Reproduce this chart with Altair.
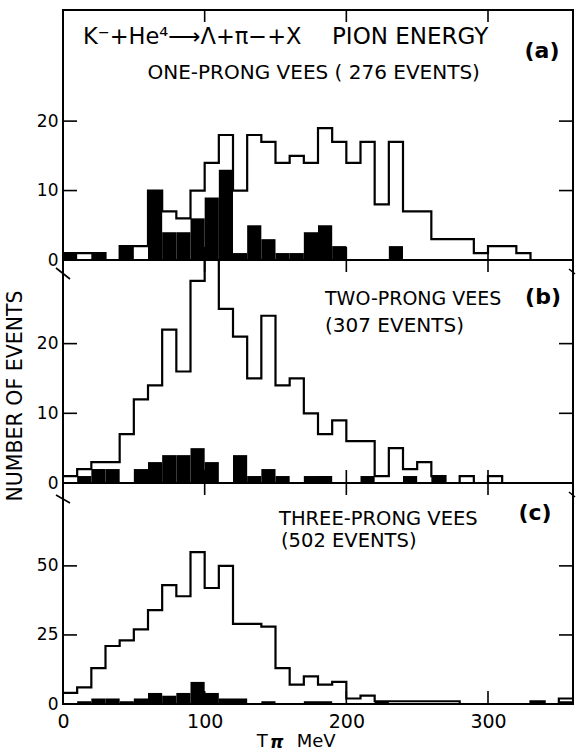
import altair as alt
import pandas as pd

# ---------------- data ----------------
bin_lo = list(range(0, 360, 10))          # 10 MeV bins, 0..360 MeV

# (a) one-prong vees
total_a = [1, 1, 1, 0, 2, 2, 10, 7, 6, 10, 14, 18, 10, 18, 17, 14, 15, 14,
           19, 17, 14, 17, 8, 17, 7, 7, 3, 3, 3, 1, 2, 2, 1, 0, 0, 0]
black_a = [1, 0, 1, 0, 2, 0, 10, 4, 4, 6, 9, 13, 1, 5, 3, 1, 1, 4,
           5, 2, 0, 0, 0, 2, 0, 0, 0, 0, 0, 0, 0, 0, 0, 0, 0, 0]
# (b) two-prong vees
total_b = [1, 2, 3, 3, 7, 12, 14, 22, 16, 29, 32, 25, 21, 15, 24, 14, 15, 10,
           7, 9, 6, 6, 1, 5, 2, 3, 1, 0, 1, 0, 1, 0, 0, 0, 0, 0]
black_b = [0, 1, 2, 2, 0, 2, 3, 4, 4, 5, 3, 0, 4, 1, 2, 1, 0, 1,
           1, 0, 0, 1, 0, 0, 1, 0, 1, 0, 0, 0, 0, 0, 0, 0, 0, 0]
# (c) three-prong vees
total_c = [4, 6, 13, 21, 23, 27, 34, 43, 39, 55, 42, 50, 29, 29, 28, 13, 7, 10,
           7, 8, 2, 3, 1, 1, 1, 1, 1, 1, 0, 0, 0, 0, 0, 1, 0, 2]
black_c = [0, 1, 2, 2, 1, 2, 4, 3, 4, 8, 4, 2, 2, 0, 1, 0, 0, 1,
           1, 0, 0, 0, 1, 0, 0, 0, 0, 0, 0, 0, 0, 0, 0, 1, 0, 1]

x_tick_marks = [100, 200, 300]
x_tick_labels = [0, 100, 200, 300]
y_ticks_a = [0, 10, 20]
y_ticks_b = [0, 10, 20]
y_ticks_c = [0, 25, 50]

# ---------------- styling ----------------
FONT = "DejaVu Sans"
W = 510
one = pd.DataFrame({"k": [0]})
xs = alt.Scale(domain=[0, 360], nice=False, zero=False)


def txt(s, x, y, size, align="left", weight="normal", baseline="alphabetic",
        style="normal"):
    return alt.Chart(one).mark_text(
        text=s, font=FONT, fontSize=size, align=align, baseline=baseline,
        fontWeight=weight, color="black", fontStyle=style
    ).encode(x=alt.value(x), y=alt.value(y))


def brk(x0, y0, x1, y1):
    return alt.Chart(one).mark_rule(color="black", strokeWidth=1.6).encode(
        x=alt.value(x0), y=alt.value(y0), x2=alt.value(x1), y2=alt.value(y1))


def panel(total, black, ymax, H, yticks, texts, bottom=False, ytitle=None):
    ys = alt.Scale(domain=[0, ymax], nice=False, zero=True)
    ykw = dict(values=yticks, ticks=False, tickSize=0, domain=False, grid=False,
               labelFont=FONT, labelFontSize=17, labelPadding=5,
               labelColor="black", labelFlush=False)
    if ytitle:
        ykw.update(title=ytitle, titleFont=FONT, titleFontSize=20.5,
                   titleFontWeight="normal", titleColor="black",
                   titleX=-38, titleY=135.5, titleAngle=270)
    else:
        ykw.update(title=None)
    yax = alt.Axis(**ykw)
    if bottom:
        xax = alt.Axis(values=x_tick_labels, format="d", ticks=False, tickSize=0,
                       domain=False, grid=False, labelFont=FONT, labelFontSize=19,
                       labelPadding=8, labelColor="black", labelFlush=False,
                       title=None)
    else:
        xax = None

    bins = pd.DataFrame({"lo": bin_lo, "hi": [b + 10 for b in bin_lo],
                         "black": black})
    step = pd.DataFrame({"x": bin_lo + [360], "y": total + [total[-1]]})
    yt = pd.DataFrame({"v": yticks})
    xt = pd.DataFrame({"v": x_tick_marks})

    bars = alt.Chart(bins).mark_rect(color="black", clip=True).encode(
        x=alt.X("lo:Q", scale=xs, axis=xax), x2="hi:Q",
        y=alt.Y("black:Q", scale=ys, axis=yax), y2=alt.datum(0))
    outline = alt.Chart(step).mark_line(
        interpolate="step-after", color="black", strokeWidth=2.2, clip=True
    ).encode(x=alt.X("x:Q", scale=xs, axis=xax),
             y=alt.Y("y:Q", scale=ys, axis=yax))
    lt = alt.Chart(yt).mark_rule(color="black", strokeWidth=1.6).encode(
        y=alt.Y("v:Q", scale=ys, axis=yax), x=alt.value(0), x2=alt.value(14))
    rt = alt.Chart(yt).mark_rule(color="black", strokeWidth=1.6).encode(
        y=alt.Y("v:Q", scale=ys, axis=yax), x=alt.value(W - 14), x2=alt.value(W))
    tt = alt.Chart(xt).mark_rule(color="black", strokeWidth=1.6).encode(
        x=alt.X("v:Q", scale=xs, axis=xax), y=alt.value(0), y2=alt.value(12))
    bt = alt.Chart(xt).mark_rule(color="black", strokeWidth=1.6).encode(
        x=alt.X("v:Q", scale=xs, axis=xax), y=alt.value(H - 13), y2=alt.value(H))
    layers = [bars, outline, lt, rt, tt, bt] + texts
    return alt.layer(*layers).properties(width=W, height=H)


Ha, Hb, Hc = 250, 223, 221

texts_a = [
    txt("K\u207b+He\u2074\u27f6\u039b+\u03c0\u2212+X", 20, 33.7, 22.5),
    txt("PION ENERGY", 269, 33.7, 23),
    txt("(a)", 479, 48, 22, align="center", weight="bold"),
    txt("ONE-PRONG  VEES  ( 276 EVENTS)", 84.5, 68.7, 20),
]
texts_b = [
    txt("TWO-PRONG VEES", 262, 44.7, 19),
    txt("(b)", 480, 44, 22, align="center", weight="bold"),
    txt("(307  EVENTS)", 262, 72, 20),
    brk(-7, 8, 7, 19),
    brk(W - 4, 9, W + 2, 14),
]
texts_c = [
    txt("THREE-PRONG VEES", 216, 42.3, 19.5),
    txt("(502  EVENTS)", 218, 64, 19.5),
    txt("(c)", 472, 37, 22, align="center", weight="bold"),
    brk(-7, 12, 7, 20),
    brk(W - 4, 9, W + 2, 14),
    txt("T", 193.7, 264, 18),
    txt("\u03c0", 207, 264.5, 17, weight="bold", style="italic"),
    txt("MeV", 233.7, 264, 18),
]

pa = panel(total_a, black_a, 36, Ha, y_ticks_a, texts_a)
pb = panel(total_b, black_b, 32, Hb, y_ticks_b, texts_b, ytitle="NUMBER OF EVENTS")
pc = panel(total_c, black_c, 80, Hc, y_ticks_c, texts_c, bottom=True)

chart = alt.vconcat(pa, pb, pc, spacing=0, bounds="flush").properties(
    padding={"left": 3, "top": 8, "right": 0, "bottom": 0},
    background="white",
).configure_view(stroke="black", strokeWidth=2)

chart.save("out.html", embed_options={"renderer": "svg", "actions": False})
